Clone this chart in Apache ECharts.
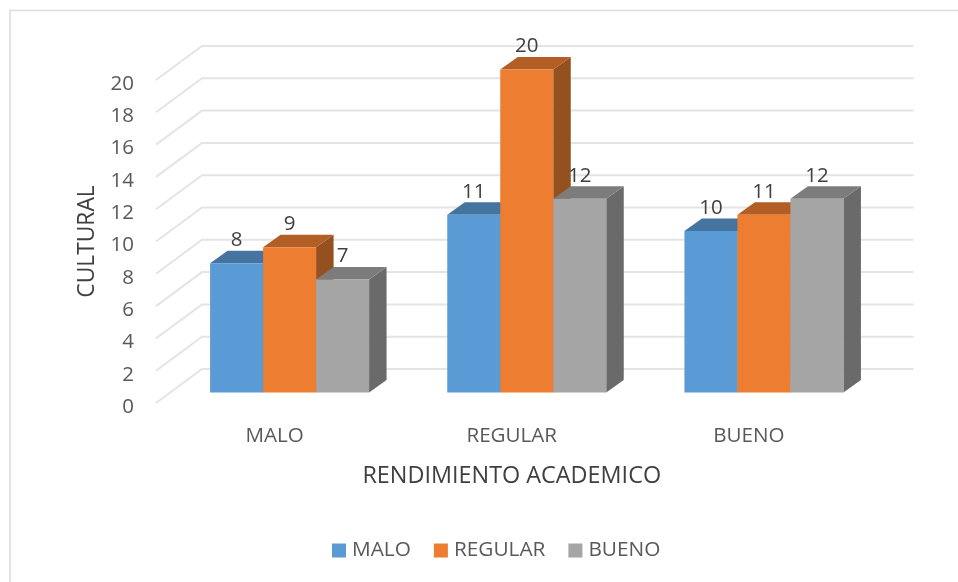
<!DOCTYPE html>
<html>
<head>
<meta charset="utf-8">
<style>
  html, body { margin: 0; padding: 0; background: #fff; }
  #chart { width: 958px; height: 582px; }
</style>
<script src="https://cdn.jsdelivr.net/npm/echarts@6/dist/echarts.min.js"></script>
</head>
<body>
<div id="chart"></div>
<script>
const categories = ['MALO', 'REGULAR', 'BUENO'];
const malo = [8, 11, 10];
const regular = [9, 20, 11];
const bueno = [7, 12, 12];
const wallTicks = [0, 2, 4, 6, 8, 10, 12, 14, 16, 18, 20];

const textColor = '#595959';
const fontName = '"Open Sans", sans-serif';

// depth of the fake 3d box, in pixels
const wallDx = 46, wallDy = -34;
const barDx = 17.5, barDy = -12.5;
const floorDx = 15, floorDy = -10.5;
const barW = 53;

// back wall lines, one for each tick
function renderWall(params, api) {
  const band = api.size([1, 0])[0];
  const v = api.value(1);
  const first = api.coord([0, v]);
  const last = api.coord([categories.length - 1, v]);
  const x0 = first[0] - band / 2;
  const x1 = last[0] + band / 2;
  return {
    type: 'polyline',
    silent: true,
    shape: { points: [[x0, first[1]], [x0 + wallDx, first[1] + wallDy], [x1 + wallDx, first[1] + wallDy]] },
    style: { fill: null, stroke: '#e4e4e4', lineWidth: 2 }
  };
}

// draws one box, offset inside its category by seriesPos
function makeBar(seriesPos, front, top, side) {
  return function (params, api) {
    const cat = api.value(0);
    const val = api.value(1);
    const t = api.coord([cat, val]);
    const b = api.coord([cat, 0]);
    const x0 = t[0] + floorDx + (seriesPos - 1.5) * barW;
    const x1 = x0 + barW;
    const yT = t[1] + floorDy;
    const yB = b[1] + floorDy;
    return {
      type: 'group',
      children: [
        {
          type: 'polygon',
          shape: { points: [[x1, yT], [x1 + barDx, yT + barDy], [x1 + barDx, yB + barDy], [x1, yB]] },
          style: { fill: side }
        },
        {
          type: 'polygon',
          shape: { points: [[x0, yT], [x0 + barDx, yT + barDy], [x1 + barDx, yT + barDy], [x1, yT]] },
          style: { fill: top }
        },
        {
          type: 'rect',
          shape: { x: x0, y: yT, width: barW, height: yB - yT },
          style: { fill: front }
        },
        {
          type: 'text',
          z2: 50,
          style: {
            text: String(val),
            x: (x0 + x1) / 2,
            y: yT - 23,
            align: 'center',
            verticalAlign: 'middle',
            fill: '#404040',
            font: '20.5px ' + fontName
          }
        }
      ]
    };
  };
}

function barSeries(name, values, pos, front, top, side) {
  return {
    name: name,
    type: 'custom',
    z: 3 + pos,
    clip: false,
    itemStyle: { color: front },
    renderItem: makeBar(pos, front, top, side),
    encode: { x: 0, y: 1 },
    data: values.map((v, i) => [i, v])
  };
}

const myChart = echarts.init(document.getElementById('chart'));

const option = {
  backgroundColor: '#fff',
  animation: false,
  graphic: [
    {
      type: 'polyline',
      silent: true,
      shape: { points: [[10, 582], [10, 10.5], [958, 10.5]] },
      style: { fill: null, stroke: '#dcdcdc', lineWidth: 1.6 }
    }
  ],
  grid: { left: 156, right: 90.5, top: 80, bottom: 179 },
  legend: {
    data: ['MALO', 'REGULAR', 'BUENO'],
    left: 332,
    top: 540,
    padding: 0,
    icon: 'rect',
    itemWidth: 14,
    itemHeight: 14,
    itemGap: 23,
    textStyle: { color: textColor, fontSize: 20.8, fontFamily: fontName, padding: [0, 0, 0, 1] }
  },
  xAxis: {
    type: 'category',
    data: categories,
    name: 'RENDIMIENTO ACADEMICO',
    nameLocation: 'middle',
    nameGap: 62,
    nameTextStyle: { color: '#404040', fontSize: 23.4, fontFamily: fontName },
    axisLine: { show: false },
    axisTick: { show: false },
    axisLabel: { color: textColor, fontSize: 20.6, fontFamily: fontName, margin: 23 }
  },
  yAxis: {
    type: 'value',
    min: 0,
    max: 20,
    interval: 2,
    name: 'CULTURAL',
    nameLocation: 'middle',
    nameGap: 57,
    nameTextStyle: { color: '#404040', fontSize: 22.8, fontFamily: fontName },
    axisLine: { show: false },
    axisTick: { show: false },
    splitLine: { show: false },
    axisLabel: { color: textColor, fontSize: 20.5, fontFamily: fontName, margin: 22, verticalAlign: 'top', lineHeight: 8 }
  },
  series: [
    {
      name: 'pared',
      type: 'custom',
      z: 1,
      clip: false,
      silent: true,
      renderItem: renderWall,
      encode: { x: 0, y: 1 },
      data: wallTicks.map(t => [0, t])
    },
    barSeries('MALO', malo, 0, '#5b9bd5', '#44749f', '#3f6d96'),
    barSeries('REGULAR', regular, 1, '#ed7d31', '#b25e24', '#95501f'),
    barSeries('BUENO', bueno, 2, '#a5a5a5', '#7c7c7c', '#6a6a6a')
  ]
};

option && myChart.setOption(option);
</script>
</body>
</html>
